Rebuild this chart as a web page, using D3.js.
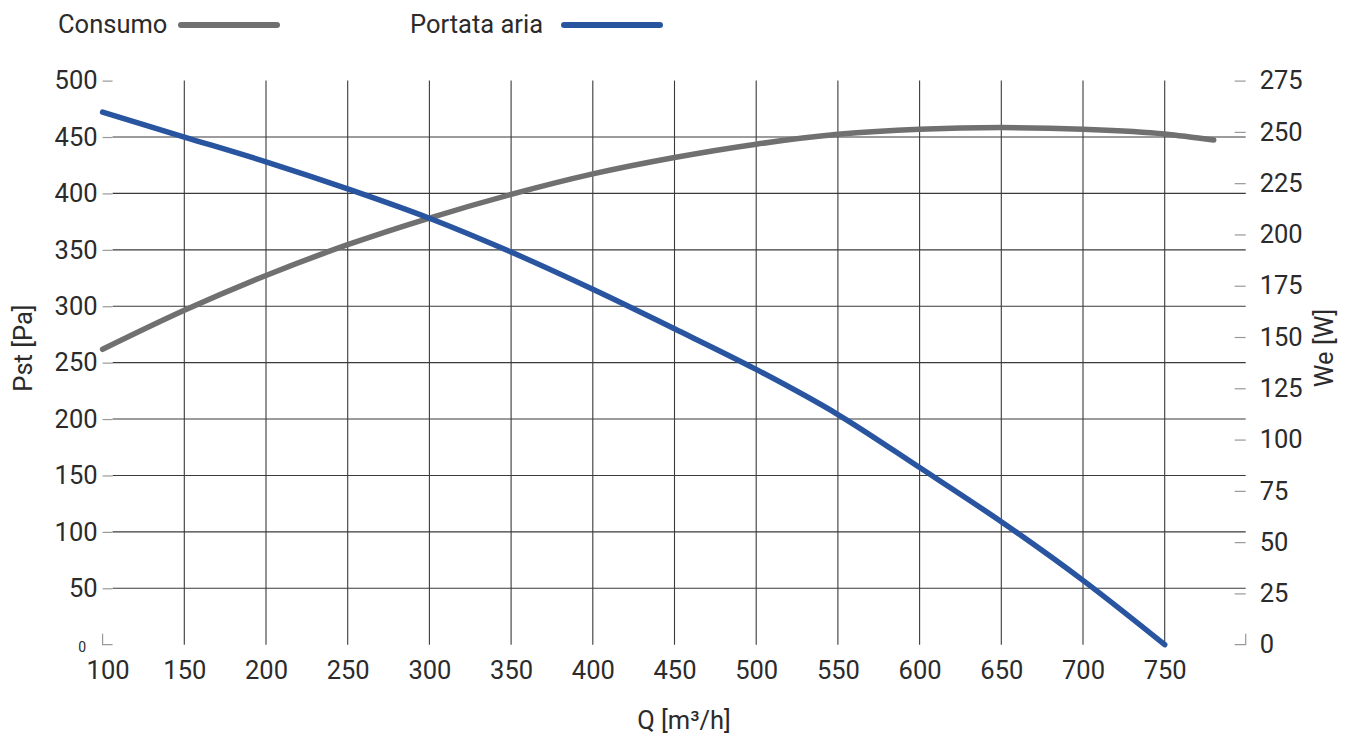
<!DOCTYPE html>
<html>
<head>
<meta charset="utf-8">
<script src="https://cdn.jsdelivr.net/npm/d3@7/dist/d3.min.js"></script>
<style>
  html, body { margin: 0; padding: 0; background: #fff; }
  svg { display: block; }
  text { font-family: Roboto, "Noto Sans", sans-serif; fill: #2b2b2b; }
</style>
</head>
<body>
<svg id="chart" width="1349" height="738"></svg>
<script>
// ---- data ----
const portataQ = [100,150,200,250,300,350,400,450,500,550,600,650,700,750];
const portataPst = [472,450,428,404,378,348,315,280,244,204,157,109,57,0];
const consumoQ = [100,150,200,250,300,350,400,450,500,550,600,650,700,750,780];
const consumoWe = [144,163,180,195,208,219.5,229.5,237.5,244,248.8,251.3,252.1,251.3,249,246];
const xTicks = [100,150,200,250,300,350,400,450,500,550,600,650,700,750];
const leftTicks = [50,100,150,200,250,300,350,400,450,500];
const rightTicks = [25,50,75,100,125,150,175,200,225,250,275];
const seriesNames = ["Consumo", "Portata aria"];
const xTitle = "Q [m³/h]";
const leftTitle = "Pst [Pa]";
const rightTitle = "We [W]";

// ---- layout ----
const colBlue = "#2854a0", colGrey = "#707070";
const pLeft = 102.6, pRight = 1164.7, gridRight = 1245.7, pTop = 80.6, pBottom = 644.7;
const fs = 25.5;

const svg = d3.select("#chart");
const x = d3.scaleLinear().domain([100, 750]).range([pLeft, pRight]);
const yL = d3.scaleLinear().domain([0, 500]).range([pBottom, pTop]);
const yR = d3.scaleLinear().domain([0, 275]).range([pBottom, pTop]);

// grid
const grid = svg.append("g").attr("stroke", "#3a3a3a").attr("stroke-width", 1.1);
grid.selectAll("line.v").data(xTicks.filter(d => d > 100)).join("line")
  .attr("class", "v")
  .attr("x1", d => x(d)).attr("x2", d => x(d))
  .attr("y1", pTop).attr("y2", pBottom);
grid.selectAll("line.h").data(leftTicks.filter(d => d < 500)).join("line")
  .attr("class", "h")
  .attr("x1", pLeft + 10).attr("x2", gridRight)
  .attr("y1", d => yL(d)).attr("y2", d => yL(d));

// left axis
const axL = svg.append("g").attr("transform", `translate(${pLeft},0)`)
  .call(d3.axisLeft(yL).tickValues(leftTicks).tickSize(-10).tickPadding(5));
axL.select(".domain").remove();
axL.selectAll(".tick line").attr("stroke", "#999").attr("stroke-width", 1.2);
axL.selectAll(".tick text").attr("font-size", fs).attr("fill", "#2b2b2b").attr("font-family", null);

// right axis
const axR = svg.append("g").attr("transform", `translate(${gridRight},0)`)
  .call(d3.axisRight(yR).tickValues(rightTicks).tickSize(-11).tickPadding(14));
axR.select(".domain").remove();
axR.selectAll(".tick line").attr("stroke", "#999").attr("stroke-width", 1.2);
axR.selectAll(".tick text").attr("font-size", fs).attr("fill", "#2b2b2b").attr("font-family", null);

// bottom axis
const axB = svg.append("g").attr("transform", `translate(0,${pBottom})`)
  .call(d3.axisBottom(x).tickValues(xTicks).tickSize(0).tickPadding(16));
axB.select(".domain").remove();
axB.selectAll(".tick text").attr("font-size", fs).attr("fill", "#2b2b2b").attr("font-family", null)
  .attr("dx", d => d === 100 ? 5 : 0);

// corner marks at zero
const corner = svg.append("g").attr("stroke", "#999").attr("stroke-width", 1.2).attr("fill", "none");
corner.append("path").attr("d", `M${pLeft},${yL(0) - 11}V${yL(0)}H${pLeft + 10}`);
corner.append("path").attr("d", `M${gridRight},${yR(0) - 11}V${yR(0)}H${gridRight - 11}`);
svg.append("text").attr("x", 86).attr("y", yL(0) + 7).attr("text-anchor", "end")
  .attr("font-size", 14).text("0");
svg.append("text").attr("x", gridRight + 14).attr("y", yR(0)).attr("dy", "0.32em")
  .attr("font-size", fs).text("0");

// curves
const lineL = d3.line().x((d, i) => x(portataQ[i])).y(d => yL(d)).curve(d3.curveMonotoneX);
const lineR = d3.line().x((d, i) => x(consumoQ[i])).y(d => yR(d)).curve(d3.curveMonotoneX);
svg.append("path").attr("d", lineR(consumoWe)).attr("fill", "none")
  .attr("stroke", colGrey).attr("stroke-width", 5.5).attr("stroke-linecap", "round");
svg.append("path").attr("d", lineL(portataPst)).attr("fill", "none")
  .attr("stroke", colBlue).attr("stroke-width", 5.5).attr("stroke-linecap", "round");

// titles
svg.append("text").attr("x", 684).attr("y", 729).attr("text-anchor", "middle")
  .attr("font-size", fs).text(xTitle);
svg.append("text").attr("transform", "translate(32,348) rotate(-90)").attr("text-anchor", "middle")
  .attr("font-size", fs).text(leftTitle);
svg.append("text").attr("transform", "translate(1333,348) rotate(-90)").attr("text-anchor", "middle")
  .attr("font-size", fs).text(rightTitle);

// legend
const legend = [
  {name: seriesNames[0], color: colGrey, tx: 58, lx1: 181, lx2: 277},
  {name: seriesNames[1], color: colBlue, tx: 410, lx1: 564, lx2: 660}
];
const lg = svg.append("g");
lg.selectAll("text").data(legend).join("text")
  .attr("x", d => d.tx).attr("y", 33).attr("font-size", fs).text(d => d.name);
lg.selectAll("line").data(legend).join("line")
  .attr("x1", d => d.lx1).attr("x2", d => d.lx2).attr("y1", 25).attr("y2", 25)
  .attr("stroke", d => d.color).attr("stroke-width", 6).attr("stroke-linecap", "round");
</script>
</body>
</html>
